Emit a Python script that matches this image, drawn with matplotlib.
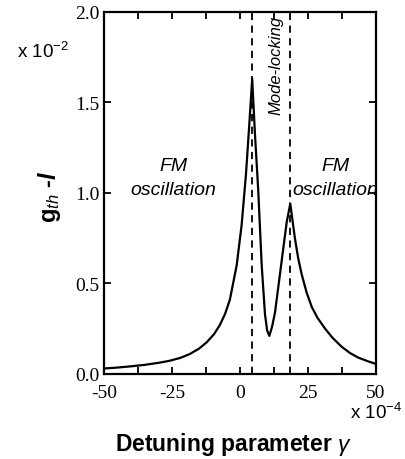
import matplotlib
matplotlib.use("Agg")
import matplotlib.pyplot as plt
import numpy as np

# threshold gain curve (x in units of 1e-4, y in units of 1e-2)
detuning = [-50, -45, -40, -35, -30, -26, -22, -18.4, -15, -12.2, -9.5, -7.4, -5.5, -3.7,
            -1.2, 0.6, 2.2, 3.4, 4.5,
            5.5, 6.7, 8.0, 9.2, 10.0, 10.8, 11.8, 12.9, 15.3, 17.2, 18.5,
            20.2, 21.4, 22.7, 24.5, 26.4, 28.5, 31.3, 34, 37.4, 40.5, 43.5, 47, 50]
gain = [0.030, 0.035, 0.042, 0.050, 0.061, 0.072, 0.088, 0.11, 0.14, 0.175, 0.22, 0.27, 0.33, 0.41,
        0.60, 0.82, 1.10, 1.37, 1.63,
        1.33, 1.02, 0.60, 0.33, 0.24, 0.21, 0.26, 0.34, 0.62, 0.84, 0.94,
        0.75, 0.64, 0.55, 0.45, 0.37, 0.31, 0.25, 0.20, 0.15, 0.115, 0.09, 0.07, 0.055]
boundaries = [4.5, 18.5]

plt.rcParams["mathtext.fontset"] = "custom"
plt.rcParams["mathtext.rm"] = "Liberation Sans"
plt.rcParams["mathtext.it"] = "Liberation Sans:italic"
plt.rcParams["mathtext.bf"] = "Liberation Sans:bold:italic"

fig = plt.figure(figsize=(4.06, 4.60), dpi=100)
ax = fig.add_axes([0.256, 0.185, 0.670, 0.787])

ax.plot(detuning, gain, color="black", lw=1.6)
for xb in boundaries:
    ax.axvline(xb, color="black", lw=1.3, ls=(0, (4, 3)))

ax.set_xlim(-50, 50)
ax.set_ylim(0, 2.0)
ax.set_xticks(np.arange(-50, 51, 12.5))
ax.set_xticklabels(["-50", "", "-25", "", "0", "", "25", "", "50"])
ax.set_yticks([0, 0.5, 1.0, 1.5, 2.0])
ax.set_yticklabels(["0.0", "0.5", "1.0", "1.5", "2.0"])
ax.tick_params(direction="in", length=5, width=1.3, top=True, right=True)
ax.tick_params(axis="x", pad=7)
ax.tick_params(axis="y", pad=3)
for lab in ax.get_xticklabels() + ax.get_yticklabels():
    lab.set_family("Liberation Serif")
    lab.set_fontsize(14)
for sp in ax.spines.values():
    sp.set_linewidth(1.6)

sans = "Liberation Sans"
ax.text(-24.6, 1.15, "FM", ha="center", va="center", style="italic", family=sans, fontsize=14)
ax.text(-24.6, 1.02, "oscillation", ha="center", va="center", style="italic", family=sans, fontsize=14)
ax.text(35.2, 1.15, "FM", ha="center", va="center", style="italic", family=sans, fontsize=14)
ax.text(35.2, 1.02, "oscillation", ha="center", va="center", style="italic", family=sans, fontsize=14)
ax.text(13.2, 1.71, "Mode-locking", ha="center", va="center", rotation=90,
        style="italic", family=sans, fontsize=12)

fig.text(0.042, 0.887, r"x 10$^{\mathrm{-2}}$", family=sans, fontsize=13.5, va="center")
fig.text(0.862, 0.102, r"x 10$^{\mathrm{-4}}$", family=sans, fontsize=13.5, va="center")

fig.text(0.123, 0.572, r"g$_{\mathit{th}}$ -$\mathbf{l}$", rotation=90,
         ha="center", va="center", family=sans, weight="bold", fontsize=17)
fig.text(0.574, 0.033, r"Detuning parameter $\gamma$", ha="center", va="center",
         family=sans, fontsize=16.5, weight="bold")

fig.savefig("out.png", dpi=100)
